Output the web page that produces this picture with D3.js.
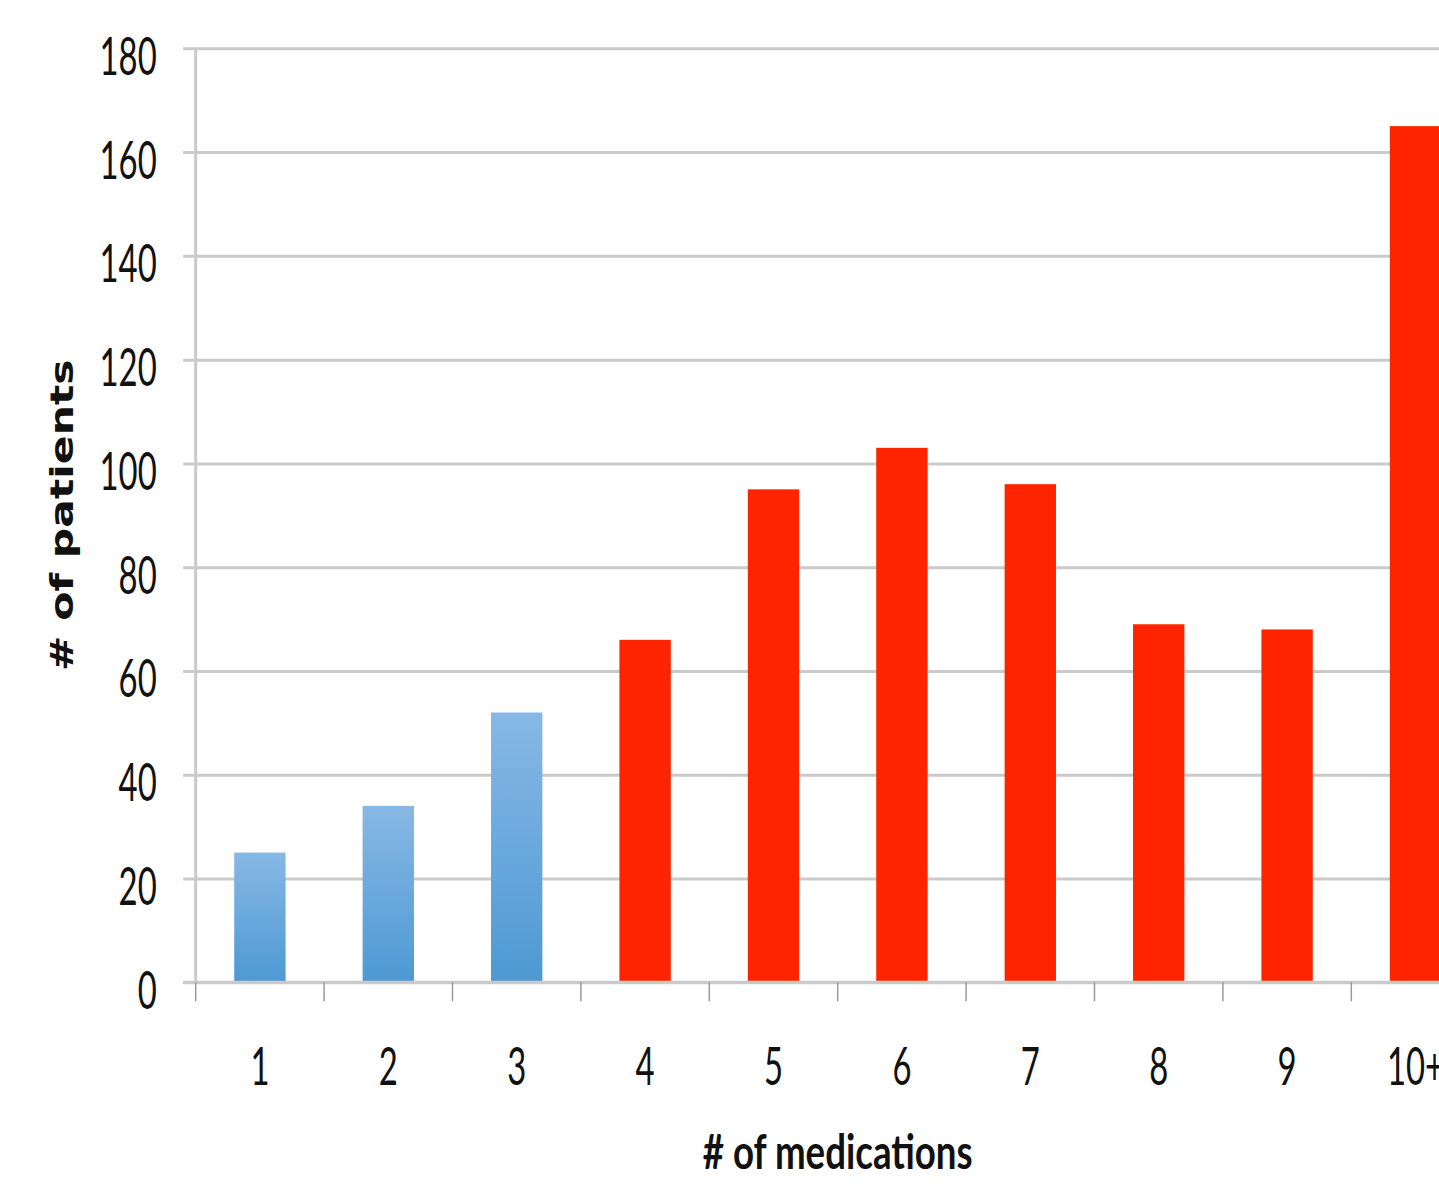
<!DOCTYPE html>
<html>
<head>
<meta charset="utf-8">
<script src="https://cdn.jsdelivr.net/npm/d3@7"></script>
<style>
  html, body { margin: 0; padding: 0; background: #fff; }
  svg { display: block; }
</style>
</head>
<body>
<svg id="chart" width="1439" height="1187"></svg>
<script>
// Number of patients by number of medications taken
const categories = ["1", "2", "3", "4", "5", "6", "7", "8", "9", "10+"];
const patients   = [25, 34, 52, 66, 95, 103, 96, 69, 68, 165];
const groups     = ["low", "low", "low", "high", "high", "high", "high", "high", "high", "high"];
const yTicks     = [0, 20, 40, 60, 80, 100, 120, 140, 160, 180];

const svg = d3.select("#chart");
const W = 1439, H = 1187;

const plotLeft = 195.7, plotTop = 48.3, plotBottom = 982.3;
const bandW = 128.4;

const x = d3.scaleBand()
  .domain(categories)
  .range([plotLeft, plotLeft + bandW * categories.length])
  .paddingInner(0.6)
  .paddingOuter(0.3);

const y = d3.scaleLinear().domain([0, 180]).range([plotBottom, plotTop]);

const gridColor = "#cacaca";
const tickFont = "Lato, 'Open Sans', sans-serif";

// gradient for the low-count bars
const defs = svg.append("defs");
const grad = defs.append("linearGradient")
  .attr("id", "blueFill").attr("x1", 0).attr("y1", 0).attr("x2", 0).attr("y2", 1);
grad.append("stop").attr("offset", "0%").attr("stop-color", "#88b8e5");
grad.append("stop").attr("offset", "100%").attr("stop-color", "#4d99d4");

// horizontal gridlines + y axis labels
const yAxis = svg.append("g")
  .attr("transform", `translate(${plotLeft},0)`)
  .call(d3.axisLeft(y).tickValues(yTicks).tickSize(-(W - plotLeft + 10)).tickSizeOuter(0).tickFormat(d3.format("d")));
yAxis.select(".domain").remove();
yAxis.selectAll(".tick line")
  .attr("x1", -12.5)
  .attr("stroke", gridColor).attr("stroke-width", 3);
yAxis.selectAll(".tick text")
  .attr("x", 0).attr("dy", null).attr("y", 0)
  .attr("text-anchor", "end")
  .attr("transform", "translate(-39,26) scale(0.62,1)")
  .style("font-family", tickFont)
  .style("font-size", "53px")
  .attr("fill", "#111");

// vertical axis line
svg.append("line")
  .attr("x1", plotLeft).attr("x2", plotLeft)
  .attr("y1", plotTop).attr("y2", plotBottom)
  .attr("stroke", gridColor).attr("stroke-width", 3);

// bars
svg.append("g").selectAll("rect")
  .data(categories.map((c, i) => ({ c, v: patients[i], g: groups[i] })))
  .join("rect")
  .attr("x", d => x(d.c))
  .attr("width", x.bandwidth())
  .attr("y", d => y(d.v))
  .attr("height", d => y(0) - y(d.v))
  .attr("fill", d => d.g === "low" ? "url(#blueFill)" : "#ff2400");

// x axis baseline and category ticks
svg.append("line")
  .attr("x1", plotLeft - 12.5).attr("x2", W)
  .attr("y1", plotBottom).attr("y2", plotBottom)
  .attr("stroke", gridColor).attr("stroke-width", 3);

const bounds = categories.map(c => x(c) - x.step() * x.paddingInner() / 2);
svg.append("g").selectAll("line")
  .data(bounds)
  .join("line")
  .attr("x1", d => d).attr("x2", d => d)
  .attr("y1", plotBottom).attr("y2", plotBottom + 19)
  .attr("stroke", "#9a9a9a").attr("stroke-width", 1.5);

svg.append("g").selectAll("text")
  .data(categories)
  .join("text")
  .attr("transform", d => `translate(${x(d) + x.bandwidth() / 2},${plotBottom + 103}) scale(0.62,1)`)
  .attr("text-anchor", "middle")
  .style("font-family", tickFont)
  .style("font-size", "53px")
  .attr("fill", "#111")
  .text(d => d);

// axis titles
svg.append("text")
  .attr("transform", `translate(${plotLeft + bandW * categories.length / 2},${plotBottom + 187}) scale(0.78,1)`)
  .attr("text-anchor", "middle")
  .style("font-family", tickFont)
  .style("font-weight", "bold")
  .style("font-size", "47px")
  .attr("fill", "#111")
  .text("# of medications");

svg.append("text")
  .attr("transform", `translate(73,${(plotTop + plotBottom) / 2}) rotate(-90) scale(1.33,1)`)
  .attr("text-anchor", "middle")
  .style("font-family", "'DejaVu Sans', sans-serif")
  .style("font-weight", "bold")
  .style("font-size", "32px")
  .attr("fill", "#111")
  .text("# of patients");
</script>
</body>
</html>
